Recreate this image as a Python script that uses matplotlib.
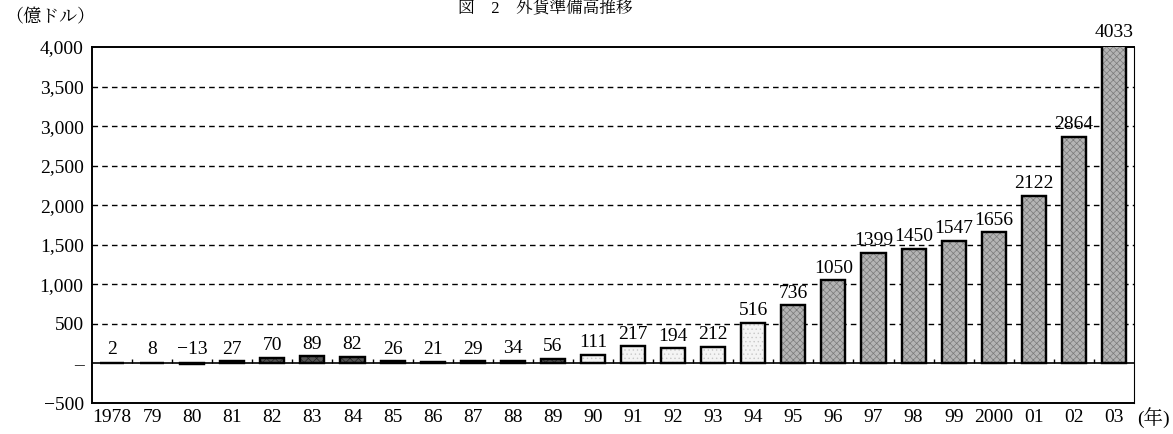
import matplotlib.pyplot as plt
import numpy as np

years = ['1978', '79', '80', '81', '82', '83', '84', '85', '86', '87', '88', '89',
         '90', '91', '92', '93', '94', '95', '96', '97', '98', '99', '2000', '01', '02', '03']
reserves = [2, 8, -13, 27, 70, 89, 82, 26, 21, 29, 34, 56,
            111, 217, 194, 212, 516, 736, 1050, 1399, 1450, 1547, 1656, 2122, 2864, 4033]
# 0 = early (dark), 1 = light stipple, 2 = gray mesh
groups = [0] * 12 + [1] * 5 + [2] * 9

yticks = [-500, 0, 500, 1000, 1500, 2000, 2500, 3000, 3500, 4000]
ytick_labels = ['−500', '–', '500', '1,000', '1,500', '2,000', '2,500', '3,000', '3,500', '4,000']

plt.rcParams['font.family'] = ['Liberation Serif', 'Noto Serif CJK JP', 'Noto Sans CJK JP', 'DejaVu Sans']
plt.rcParams['hatch.linewidth'] = 0.5

fig = plt.figure(figsize=(11.73, 4.34), dpi=100)
ax = fig.add_axes([92 / 1173, 1 - 403 / 434, (1134 - 92) / 1173, (403 - 47) / 434])

x = np.arange(len(years))
face = {0: '#555555', 1: '#f4f4f4', 2: '#b4b4b4'}
hatch = {0: 'xxxx', 1: '....', 2: 'xxxxx'}
hcol = {0: '#222222', 1: '#c8c8c8', 2: '#7a7a7a'}

for xi, v, g in zip(x, reserves, groups):
    b = ax.bar(xi, v, width=0.6, facecolor=face[g], edgecolor='black', linewidth=1.6, zorder=3)
    b[0].set_hatch(hatch[g])
    b[0]._hatch_color = plt.matplotlib.colors.to_rgba(hcol[g])
    ax.bar(xi, v, width=0.6, facecolor='none', edgecolor='black', linewidth=1.6, zorder=4)
    base = max(v, 30) + 45
    ax.text(xi, base, f'{v}'.replace('-', '−'), ha='center', va='bottom', fontsize=14, zorder=5)

# dashed grid lines
for t in yticks[2:-1]:
    ax.axhline(t, color='black', linestyle=(0, (4, 3)), linewidth=1.0, zorder=1)
ax.axhline(0, color='black', linewidth=1.2, zorder=2)
# small separators on zero line
ax.vlines(x[:-1] + 0.5, 0, 60, color='black', linewidth=1.0, zorder=2)

ax.set_xlim(-0.5, len(years) - 0.5)
ax.set_ylim(-500, 4000)
ax.set_yticks(yticks)
ax.set_yticklabels(ytick_labels, fontsize=14)
ax.set_xticks(x)
ax.set_xticklabels(years, fontsize=14)
ax.tick_params(axis='x', length=0, pad=4)
ax.tick_params(axis='y', length=0, pad=6)

for s in ['left', 'top', 'bottom']:
    ax.spines[s].set_linewidth(1.4)
ax.spines['right'].set_linewidth(0.8)

fig.text(5 / 1173, 1 - 18 / 434, '（億ドル）', fontsize=13, ha='left', va='center')
fig.text(1137 / 1173, 1 - 418 / 434, '(年)', fontsize=14, ha='left', va='center')
fig.text(545 / 1173, 1 - 1 / 434, '図　2　外貨準備高推移', fontsize=12, ha='center', va='top')

fig.savefig('out.png', dpi=100)
